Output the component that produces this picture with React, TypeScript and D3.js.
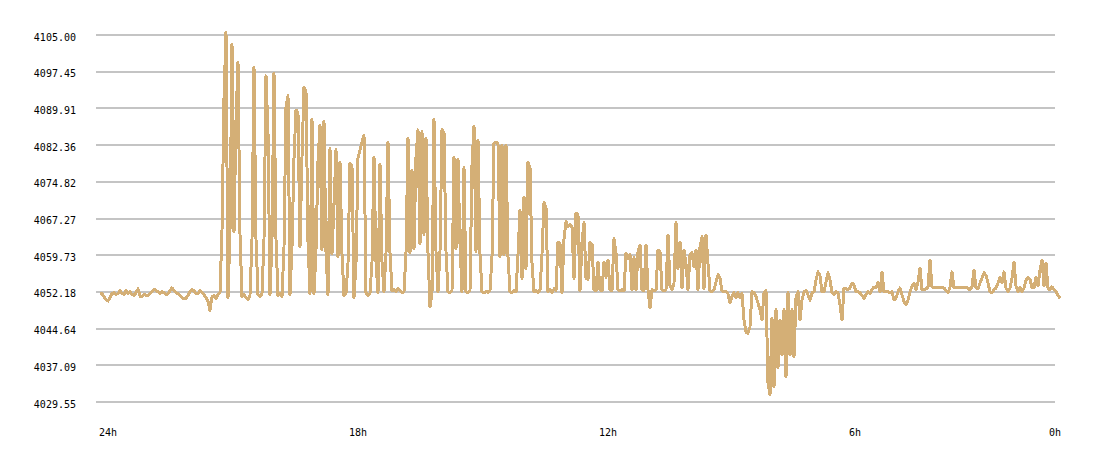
import React from "react";
import * as d3 from "d3";

const width = 1100;
const height = 458;

// y axis tick values (price), x axis labels (hours ago)
const yTicks = [4105.0, 4097.45, 4089.91, 4082.36, 4074.82, 4067.27, 4059.73, 4052.18, 4044.64, 4037.09, 4029.55];
const hourTicks = [24, 18, 12, 6, 0];

// price samples, oldest first, split by stretch of the day
const pricesQuiet = [
  4052.0, 4051.8, 4051.2, 4050.6, 4050.3, 4051.0, 4051.8, 4052.0, 4051.6, 4051.9,
  4052.4, 4051.8, 4051.7, 4052.5, 4051.9, 4052.2, 4051.6, 4051.5, 4052.0, 4052.8,
  4051.3, 4051.2, 4051.7, 4051.5, 4051.4, 4051.8, 4052.3, 4052.7, 4052.5, 4052.2,
  4051.9, 4052.3, 4052.0, 4051.6, 4051.8, 4052.4, 4053.0, 4052.5, 4052.0, 4051.8,
  4051.4, 4051.0, 4050.8, 4050.9, 4051.5, 4052.2, 4052.6, 4052.4, 4051.8, 4051.9,
  4052.4, 4052.1, 4051.6, 4051.0, 4050.2, 4048.4, 4051.2, 4051.4, 4050.9, 4051.6,
  4052.0,
];

const pricesSpikes = [
  4064.7, 4092.0, 4105.6, 4051.0, 4064.7, 4103.1, 4064.5, 4087.5, 4099.4, 4064.0,
  4051.2, 4051.6, 4051.0, 4050.6, 4051.5, 4062.9, 4098.4, 4063.0, 4051.6, 4051.2,
  4051.8, 4063.0, 4096.6, 4085.0, 4051.6, 4063.0, 4097.2, 4063.0, 4051.4, 4051.9,
  4051.2, 4061.4, 4090.2, 4092.5, 4051.6, 4061.4, 4079.7, 4089.6, 4089.0, 4061.4,
  4080.0, 4094.3, 4093.5, 4062.4, 4051.8, 4087.7, 4051.8, 4060.8, 4079.0, 4086.5,
  4060.8, 4087.3, 4060.4, 4051.6, 4081.6, 4060.0, 4070.0, 4081.4, 4059.4, 4078.9,
  4060.0, 4051.4, 4051.9, 4058.1, 4078.7, 4078.0, 4051.0, 4058.1, 4079.7, 4081.4,
  4083.0, 4084.4, 4052.0, 4051.5, 4051.9, 4058.3, 4079.9, 4058.3, 4052.0, 4078.5,
  4058.3, 4052.2, 4060.2, 4083.0, 4060.2, 4052.4, 4052.6, 4052.2, 4052.8, 4052.4,
  4052.0, 4052.2, 4060.2, 4083.8, 4060.2, 4077.2, 4061.0, 4080.0, 4085.5, 4062.0,
  4085.1, 4064.0, 4083.8, 4060.2, 4049.1, 4052.0, 4087.7, 4060.5, 4052.2, 4060.5,
  4085.5, 4085.0, 4060.5, 4052.2, 4052.0, 4052.4, 4079.9, 4061.0, 4079.5, 4062.0,
  4052.2, 4077.7, 4052.2, 4052.0, 4052.4, 4078.3, 4086.3, 4060.5, 4083.4, 4060.0,
  4052.2, 4052.0, 4052.3, 4052.1, 4052.4, 4059.4, 4082.8, 4083.0, 4082.6, 4059.4,
  4082.4, 4059.8, 4082.4, 4059.4, 4052.2, 4052.0, 4052.4, 4052.2, 4060.0, 4069.0,
  4055.0, 4071.7, 4057.0, 4078.9, 4077.7, 4058.1,
];

const pricesChop = [
  4052.2, 4052.4, 4052.0, 4052.6,
  4060.0, 4070.5, 4069.6, 4052.2, 4052.6, 4052.0, 4052.8, 4052.4, 4062.4, 4062.2,
  4052.0, 4063.1, 4066.6, 4065.7, 4066.0, 4065.5, 4055.0, 4068.4, 4068.0, 4052.4,
  4062.4, 4066.4, 4055.0, 4054.8, 4062.4, 4062.0, 4052.6, 4052.4, 4058.3, 4052.6,
  4052.4, 4058.3, 4055.2, 4058.7, 4052.6, 4052.4, 4063.1, 4060.2, 4052.6, 4052.4,
  4052.6, 4052.4, 4060.2, 4059.0, 4059.8, 4052.6, 4059.2, 4052.6, 4060.4, 4061.8,
  4052.6, 4052.4, 4061.8, 4052.6, 4048.9, 4052.6, 4052.4, 4052.6, 4060.8, 4060.4,
  4052.6, 4052.4, 4052.6, 4063.9, 4053.5, 4052.6, 4054.0, 4066.4, 4057.0, 4062.4,
  4053.0, 4060.8, 4058.0, 4052.6, 4059.8, 4060.2, 4057.3, 4060.8, 4052.6, 4061.4,
  4063.5, 4052.8, 4063.9, 4058.0, 4052.4,
];

const pricesDip = [
  4052.2, 4052.6, 4054.2, 4055.7, 4055.0,
  4052.4, 4052.2, 4052.2, 4051.8, 4049.9, 4051.2, 4052.0, 4051.0, 4052.0, 4051.0,
  4051.8, 4046.4, 4043.9, 4043.7, 4045.0, 4052.2, 4052.0, 4051.2, 4049.9, 4048.5,
  4046.4, 4052.0, 4052.4, 4033.5, 4031.0, 4046.8, 4032.6, 4048.5, 4036.6, 4046.4,
  4039.2, 4048.5, 4034.7, 4052.0, 4039.2, 4048.5, 4038.8, 4051.0, 4052.2, 4046.4,
  4050.5, 4052.2, 4052.4, 4051.6, 4050.5, 4052.0, 4052.2, 4054.6, 4056.3, 4055.5,
  4052.2, 4052.2, 4054.2, 4056.1, 4054.6, 4052.0, 4051.6, 4052.2, 4052.0, 4049.5,
];

const pricesLate = [
  4046.4, 4053.0, 4052.8, 4052.6, 4053.0, 4054.0, 4053.6, 4052.2, 4052.2, 4052.0,
  4051.4, 4050.9, 4051.6, 4052.2, 4051.8, 4052.6, 4053.2, 4053.0, 4054.2, 4052.2,
  4056.3, 4052.2, 4052.2, 4052.2, 4052.0, 4052.2, 4050.5, 4050.9, 4052.2, 4053.0,
  4051.6, 4050.2, 4049.5, 4050.5, 4052.2, 4053.4, 4054.0, 4052.6, 4054.2, 4057.1,
  4052.6, 4052.6, 4052.8, 4053.2, 4058.7, 4053.2, 4053.0, 4053.0, 4053.0, 4053.0,
  4053.0, 4053.0, 4052.4, 4052.0, 4053.2, 4056.3, 4053.0, 4053.0, 4053.0, 4053.0,
  4053.0, 4053.0, 4053.0, 4053.0, 4052.6, 4053.2, 4056.7, 4053.0, 4052.8, 4054.0,
  4055.0, 4056.1, 4055.6, 4054.0, 4052.2, 4052.0, 4052.6, 4053.0, 4054.0, 4055.2,
  4054.0, 4056.3, 4053.0, 4052.2, 4053.0, 4055.0, 4058.3, 4053.4, 4052.2, 4053.2,
  4052.2, 4053.0, 4054.6, 4055.2, 4054.8, 4053.0, 4053.0, 4055.2, 4053.4, 4056.7,
  4058.7, 4053.4, 4058.1, 4053.0, 4052.6, 4053.2, 4052.6, 4052.2, 4051.4, 4050.9,
];

const prices = [...pricesQuiet, ...pricesSpikes, ...pricesChop, ...pricesDip, ...pricesLate];

const font = "'DejaVu Sans Mono', monospace";

const App = () => {
  const y = d3.scaleLinear().domain([4029.55, 4105.0]).range([402, 35]);
  const x = d3.scaleLinear().domain([0, prices.length - 1]).range([100, 1060]);
  const hx = d3.scaleLinear().domain([24, 0]).range([99, 1099]);

  const line = d3
    .line<number>()
    .x((_, i) => x(i))
    .y((d) => y(d));

  return (
    <svg
      width={width}
      height={height}
      style={{ position: "absolute", left: 0, top: 0, background: "#fff" }}
    >
      {/* grid + price labels */}
      {yTicks.map((t) => (
        <g key={t}>
          <line
            x1={96}
            x2={1055}
            y1={Math.round(y(t))}
            y2={Math.round(y(t))}
            stroke="#c4c4c4"
            strokeWidth={2}
            shapeRendering="crispEdges"
          />
          <text
            x={76}
            y={y(t) + 5.5}
            textAnchor="end"
            fontFamily={font}
            fontSize={10}
            fill="#000"
          >
            {t.toFixed(2)}
          </text>
        </g>
      ))}

      {/* hour labels */}
      {hourTicks.map((h) => (
        <text
          key={h}
          x={Math.min(hx(h), 1049)}
          y={436}
          fontFamily={font}
          fontSize={10}
          fill="#000"
        >
          {h}h
        </text>
      ))}

      <path
        d={line(prices) || ""}
        fill="none"
        stroke="#d4af76"
        strokeWidth={3}
        strokeLinejoin="round"
        shapeRendering="crispEdges"
      />
    </svg>
  );
};

export default App;
